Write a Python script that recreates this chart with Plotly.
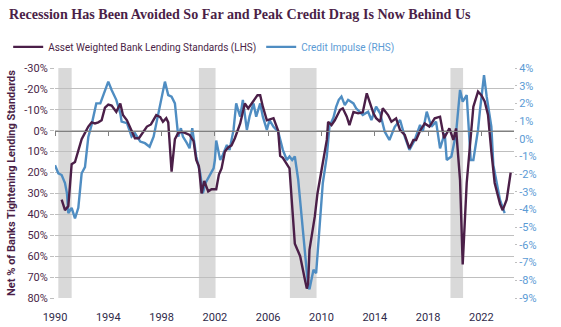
import plotly.graph_objects as go

# ---- data ----
lend_x = [1990.5, 1990.75, 1991.0, 1991.25, 1991.5, 1991.75, 1992.0, 1992.25, 1992.5, 1992.75,
          1993.0, 1993.25, 1993.5, 1993.75, 1994.0, 1994.25, 1994.6, 1994.9, 1995.1, 1995.4,
          1995.75, 1996.0, 1996.3, 1996.6, 1996.9, 1997.2, 1997.6, 1997.9, 1998.1, 1998.35,
          1998.5, 1998.75, 1999.0, 1999.25, 1999.5, 1999.75, 2000.1, 2000.4, 2000.6, 2000.8,
          2001.0, 2001.2, 2001.5, 2001.75, 2002.1, 2002.3, 2002.5, 2002.75, 2003.0, 2003.25,
          2003.5, 2003.9, 2004.25, 2004.5, 2004.75, 2005.2, 2005.4, 2005.6, 2005.9, 2006.1,
          2006.4, 2006.75, 2006.9, 2007.1, 2007.4, 2007.6, 2008.0, 2008.4, 2008.75, 2008.9,
          2009.0, 2009.1, 2009.5, 2009.7, 2010.0, 2010.25, 2010.4, 2010.5, 2010.75, 2011.0,
          2011.4, 2011.6, 2011.9, 2012.1, 2012.4, 2012.75, 2013.1, 2013.4, 2013.9, 2014.1,
          2014.4, 2014.6, 2015.0, 2015.25, 2015.6, 2015.9, 2016.25, 2016.6, 2016.9, 2017.1,
          2017.4, 2017.75, 2018.1, 2018.5, 2018.9, 2019.2, 2019.6, 2019.9, 2020.1, 2020.4,
          2020.6, 2020.9, 2021.1, 2021.4, 2021.75, 2022.0, 2022.25, 2022.5, 2022.75, 2023.0,
          2023.4, 2023.6, 2023.9, 2024.2]
lend_y = [33, 38, 36, 16, 15, 10, 4, 1, -2, -4,
          -3.5, -4, -5, -11, -12.5, -12, -9, -13, -7.5, -5,
          0, 3.6, 3.6, 1, -2, -3, -7.5, -6.5, -4.3, -6,
          -4, 19.6, 4, 1, 0.5, 1, 2, 5, 14, 17,
          30, 24, 29, 28, 28, 21, 18, 10, 8, 7,
          3.6, -3.5, -13, -10.7, -13, -17, -17, -11.5, -5, -5.5,
          -6, 0, 12, 13, 16, 18, 54, 60, 71, 75.5,
          73, 57, 41, 30, 19, 11, 4.4, -4.3, -2.7, -5,
          -10, -10.7, -6.7, -2.7, -9, -8.3, -8.8, -17.9, -8.3, -6,
          -4.3, -10.7, -7.5, -4.3, -5.9, -0.3, 2, 8.4, 4.4, 4.4,
          0, -3.5, -2, -5.9, -6.7, 3.6, -1.1, 4.4, -1.1, 23.6,
          64, 25, 9, -11.5, -18.7, -17, -14, -7.5, 10, 25,
          35, 38, 33, 20]

imp_x = [1990.0, 1990.25, 1990.5, 1990.75, 1990.9, 1991.0, 1991.25, 1991.5, 1991.75, 1992.0,
         1992.25, 1992.5, 1992.75, 1993.1, 1993.4, 1993.75, 1994.0, 1994.25, 1994.6, 1994.9,
         1995.0, 1995.4, 1995.75, 1996.0, 1996.4, 1996.75, 1997.1, 1997.4, 1997.6, 1998.0,
         1998.25, 1998.5, 1998.75, 1999.0, 1999.25, 1999.45, 1999.6, 1999.9, 2000.1, 2000.3,
         2000.6, 2000.9, 2001.1, 2001.3, 2001.6, 2001.9, 2002.0, 2002.1, 2002.4, 2002.6,
         2002.9, 2003.1, 2003.4, 2003.6, 2003.75, 2003.9, 2004.1, 2004.4, 2004.6, 2004.9,
         2005.1, 2005.4, 2005.6, 2005.9, 2006.1, 2006.4, 2006.75, 2007.1, 2007.4, 2007.6,
         2007.8, 2008.0, 2008.25, 2008.6, 2009.0, 2009.1, 2009.4, 2009.6, 2009.9, 2010.1,
         2010.4, 2010.6, 2010.9, 2011.1, 2011.3, 2011.5, 2011.75, 2012.0, 2012.4, 2012.6,
         2013.1, 2013.5, 2013.75, 2014.1, 2014.4, 2014.75, 2015.1, 2015.5, 2015.9, 2016.25,
         2016.6, 2017.0, 2017.4, 2017.6, 2017.9, 2018.25, 2018.6, 2018.9, 2019.25, 2019.4,
         2019.75, 2020.1, 2020.4, 2020.6, 2020.9, 2021.2, 2021.4, 2021.75, 2021.9, 2022.2,
         2022.4, 2022.75, 2022.9, 2023.1, 2023.4, 2023.75]
imp_y = [-1.5, -1.95, -2.05, -2.5, -3.1, -4.2, -3.9, -4.5, -3.9, -1.95,
         -1.6, 0.1, 0.8, 2.0, 2.0, 2.76, 3.23, 2.76, 2.2, 1.44,
         0.97, 0.88, 0.12, 0.31, -0.16, -0.25, -0.45, 0.12, 0.88, 2.38,
         3.23, 2.47, 2.38, 2.0, 0.12, 0.6, 0.12, -0.25, -0.54, 0.6,
         -1.0, -1.95, -3.08, -2.5, -2.05, -1.67, -1.2, -0.1, -1.2, -0.9,
         -0.35, -0.63, 0.5, 2.0, 1.6, 1.25, 2.2, 0.5, 1.25, 2.0,
         1.25, 2.0, 1.25, 0.5, 1.06, 0.68, 0.4, -0.63, -1.2, -1.0,
         -1.2, -1.0, -2.3, -5.3, -8.35, -8.5, -7.4, -7.6, -4.4, -2.5,
         -1.0, 0.7, 1.2, 1.8, 2.2, 2.38, 1.9, 2.2, 2.0, 1.72,
         1.35, 1.53, 1.06, 1.81, 1.44, 0.4, -0.07, 0.68, 1.06, 0.12,
         -0.63, -0.07, 0.78, 0.4, 1.53, 0.68, 0.97, -0.54, 0.31, -1.2,
         -1.0, 0.31, 2.76, 2.1, 2.47, -1.2, -1.2, 0.5, 1.63, 3.6,
         2.38, 0.68, -1.5, -2.3, -3.46, -4.2]

rec_start = [1990.25, 2000.8, 2007.63, 2019.68]
rec_end = [1991.25, 2002.05, 2009.63, 2020.63]

left_ticks = [-30, -20, -10, 0, 10, 20, 30, 40, 50, 60, 70, 80]
right_ticks = [4, 3, 2, 1, 0, -1, -2, -3, -4, -5, -6, -7, -8, -9]
year_ticks = [1990, 1994, 1998, 2002, 2006, 2010, 2014, 2018, 2022]

PURPLE = "#4B1F48"
BLUE = "#4F8DC2"
BLUE_TXT = "#5B9BD5"
FONT = "Roboto, sans-serif"
XR = [1990, 2024.45]

fig = go.Figure()
fig.add_trace(go.Scatter(
    x=imp_x, y=imp_y, mode="lines", xaxis="x", yaxis="y",
    line=dict(color=BLUE, width=2.4),
    name="<span style='color:%s'>Credit Impulse (RHS)</span>" % BLUE_TXT,
    legendrank=2))
fig.add_trace(go.Scatter(
    x=lend_x, y=lend_y, mode="lines", xaxis="x2", yaxis="y2",
    line=dict(color=PURPLE, width=2.4),
    name="<span style='color:%s'>Asset Weighted Bank Lending Standards (LHS)</span>" % PURPLE,
    legendrank=1))

for s, e in zip(rec_start, rec_end):
    fig.add_shape(type="rect", xref="x", yref="paper", x0=s, x1=e, y0=0, y1=1,
                  fillcolor="#D9D9D9", line=dict(width=0), layer="below")

fig.update_layout(
    width=561, height=327,
    margin=dict(l=55, r=47, t=68, b=29, autoexpand=False),
    paper_bgcolor="white", plot_bgcolor="white",
    font=dict(family=FONT, size=11, color=PURPLE),
    title=dict(text="Recession Has Been Avoided So Far and Peak Credit Drag Is Now Behind Us",
               font=dict(family="Liberation Serif, serif", size=14.1, color=PURPLE, weight="bold"),
               xref="container", yref="container", x=9 / 561, xanchor="left",
               y=1 - 14.5 / 327, yanchor="middle"),
    legend=dict(orientation="h", x=-0.102, xanchor="left", y=1.092, yanchor="middle",
                font=dict(family=FONT, size=10), bgcolor="rgba(0,0,0,0)",
                itemwidth=30, traceorder="normal"),
    showlegend=True,
    xaxis=dict(range=XR, tickvals=year_ticks, showgrid=False, zeroline=False, automargin=False,
               showline=False, ticks="outside", ticklen=9, tickcolor="rgba(0,0,0,0)",
               tickfont=dict(family=FONT, size=11, color="#2F2A4A")),
    xaxis2=dict(range=XR, overlaying="x", anchor="free", position=80 / 110, automargin=False,
                tickvals=year_ticks, showticklabels=False, showgrid=False, zeroline=False,
                showline=True, linecolor="#808080", linewidth=1,
                ticks="outside", ticklen=4, tickcolor="#808080"),
    yaxis=dict(range=[-9, 4], tickvals=right_ticks, ticktext=["%d%%" % v for v in right_ticks],
               side="right", anchor="x", showgrid=False, zeroline=False, automargin=False,
               ticks="outside", ticklen=2, tickcolor="#BFBFBF",
               tickfont=dict(family=FONT, size=11, color=BLUE_TXT)),
    yaxis2=dict(range=[80, -30], tickvals=left_ticks, ticktext=["%d%%" % v for v in left_ticks],
                side="left", overlaying="y", anchor="x", automargin=False,
                showgrid=True, gridcolor="#BFBFBF", gridwidth=1, zeroline=False,
                ticks="outside", ticklen=4, tickcolor="#BFBFBF",
                tickfont=dict(family=FONT, size=11, color=PURPLE),
                title=dict(text="Net % of Banks Tightening Lending Standards",
                           font=dict(family=FONT, size=11, color=PURPLE, weight="bold"),
                           standoff=6)),
)

fig.write_html("out.html")
